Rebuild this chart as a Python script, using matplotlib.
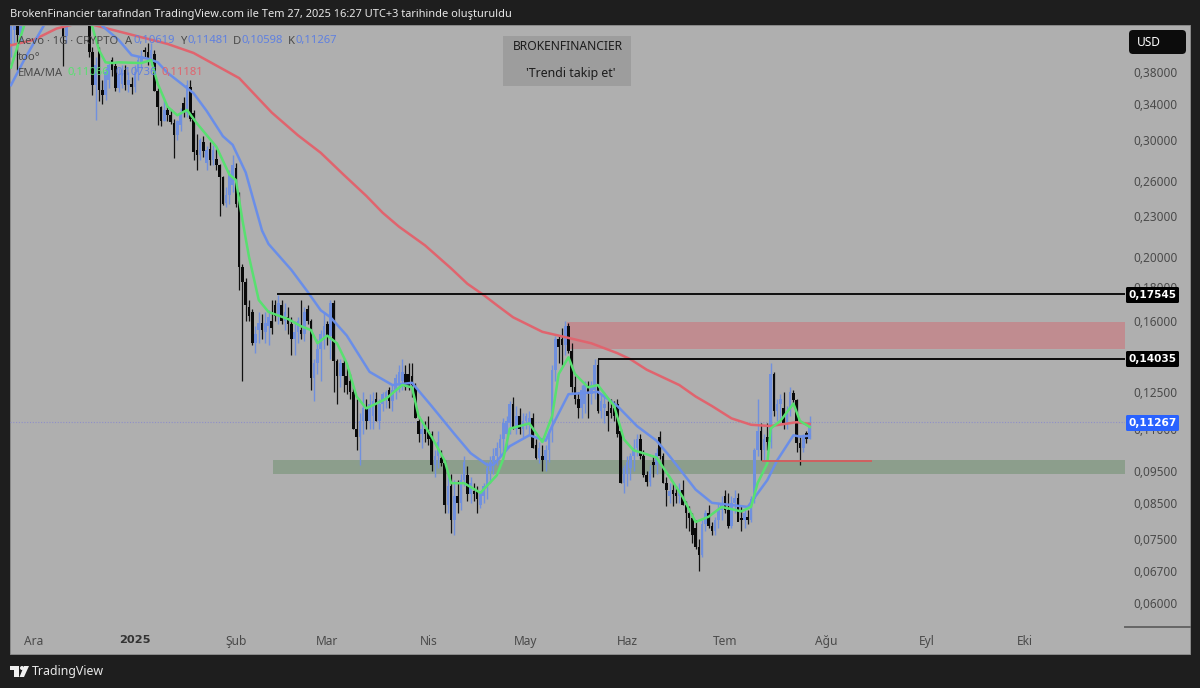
import numpy as np
import matplotlib
matplotlib.use('Agg')
import matplotlib.pyplot as plt
from matplotlib.patches import Rectangle, FancyBboxPatch, Polygon, Circle

# daily candles: (open, high, low, close)
nov = [(.42,.47,.40,.46),(.44,.49,.42,.48),(.47,.50,.383,.432),(.43,.49,.42,.48),(.48,.53,.46,.52),(.52,.55,.49,.53),(.53,.57,.50,.55)]
dec = [(.50,.54,.47,.52),(.52,.56,.49,.50),(.50,.55,.47,.53),(.53,.58,.50,.56),(.56,.60,.52,.54),(.54,.58,.50,.52),(.52,.56,.48,.50),
       (.50,.54,.47,.52),(.52,.55,.49,.50),(.50,.53,.388,.43),(.43,.50,.42,.49),(.49,.54,.47,.52),(.52,.56,.49,.54),(.54,.58,.50,.51),
       (.51,.55,.47,.53),(.53,.56,.49,.52),(.52,.55,.47,.50),(.50,.52,.40,.408),(.408,.415,.351,.363),(.363,.40,.322,.39),(.41,.415,.344,.357),
       (.357,.370,.34,.351),(.351,.385,.345,.38),(.37,.395,.36,.39),(.396,.40,.375,.383),(.388,.392,.356,.36),(.36,.385,.355,.376),
       (.365,.39,.36,.383),(.383,.39,.357,.363),(.363,.38,.355,.37),(.364,.373,.352,.361)]
jan = [(.361,.39,.355,.38),(.38,.40,.37,.396),(.393,.41,.385,.402),(.41,.415,.40,.407),(.408,.42,.39,.399),(.399,.42,.39,.41),
       (.405,.41,.356,.356),(.356,.36,.316,.336),(.336,.338,.315,.321),(.321,.345,.32,.333),(.333,.338,.321,.327),(.327,.334,.317,.319),
       (.318,.323,.282,.305),(.305,.322,.30,.32),(.316,.335,.31,.33),(.341,.348,.325,.329),(.329,.37,.325,.363),(.361,.37,.32,.323),
       (.33,.333,.28,.288),(.29,.306,.27,.285),(.285,.302,.28,.30),(.298,.304,.283,.289),(.277,.294,.27,.29),(.291,.298,.275,.28),
       (.28,.295,.275,.29),(.281,.291,.27,.275),(.275,.276,.23,.264),(.264,.265,.239,.24),(.241,.255,.238,.248),(.248,.27,.24,.266),
       (.257,.285,.25,.275)]
feb = [(.272,.277,.238,.24),(.245,.25,.178,.193),(.193,.195,.130,.183),(.183,.186,.16,.169),(.168,.172,.16,.163),(.165,.167,.147,.148),
       (.148,.157,.143,.153),(.155,.165,.148,.159),(.159,.164,.15,.155),(.154,.165,.148,.159),(.157,.166,.147,.162),(.16,.172,.153,.156),
       (.169,.172,.16,.163),(.163,.175,.158,.17),(.169,.172,.158,.16),(.16,.17,.155,.165),(.162,.168,.153,.158),(.158,.162,.142,.15),
       (.15,.16,.142,.154),(.154,.162,.148,.16),(.155,.172,.15,.153),(.153,.168,.149,.165),(.167,.169,.158,.16),(.16,.161,.126,.131),
       (.131,.14,.121,.138),(.138,.15,.133,.145),(.145,.155,.13,.153),(.15,.165,.145,.157)]
mar = [(.158,.16,.147,.152),(.152,.172,.14,.17),(.17,.172,.125,.139),(.139,.14,.12,.132),(.132,.14,.127,.138),(.138,.14,.125,.132),
       (.132,.137,.124,.128),(.13,.133,.122,.125),(.125,.127,.11,.11),(.11,.122,.102,.107),(.107,.116,.097,.113),(.113,.125,.108,.118),
       (.118,.122,.11,.113),(.113,.124,.11,.12),(.115,.125,.11,.121),(.122,.125,.113,.113),(.113,.122,.11,.12),(.12,.125,.117,.124),
       (.122,.126,.118,.125),(.126,.127,.118,.121),(.121,.128,.117,.126),(.126,.133,.122,.131),(.129,.137,.125,.134),(.13,.14,.126,.134),
       (.133,.137,.126,.127),(.133,.138,.126,.127),(.132,.138,.123,.128),(.127,.129,.114,.114),(.113,.115,.105,.108),(.108,.113,.103,.11),
       (.11,.113,.105,.108)]
apr = [(.109,.115,.104,.106),(.108,.109,.095,.097),(.097,.102,.093,.10),(.10,.109,.096,.105),(.0995,.102,.0965,.0975),(.0975,.0985,.082,.0845),
       (.0845,.095,.082,.09),(.09,.094,.0765,.08),(.08,.092,.076,.087),(.087,.092,.082,.085),(.085,.094,.083,.092),(.092,.10,.09,.098),
       (.0935,.0965,.0855,.0875),(.0875,.093,.085,.091),(.0885,.091,.0855,.0875),(.0885,.09,.082,.086),(.0845,.0885,.0835,.088),(.087,.091,.085,.09),
       (.09,.098,.086,.096),(.095,.10,.091,.098),(.098,.103,.094,.10),(.10,.105,.097,.103),(.103,.108,.10,.106),(.106,.114,.10,.112),
       (.108,.115,.103,.113),(.112,.121,.108,.12),(.12,.123,.11,.11),(.11,.119,.108,.115),(.115,.118,.108,.11),(.11,.116,.107,.113)]
may = [(.113,.116,.11,.115),(.112,.117,.108,.114),(.114,.116,.103,.103),(.104,.106,.099,.0995),(.0995,.105,.0975,.103),(.10,.104,.095,.0985),
       (.0985,.104,.095,.102),(.102,.11,.098,.108),(.113,.137,.105,.135),(.135,.152,.13,.15),(.15,.152,.138,.146),(.15,.156,.137,.147),
       (.147,.16,.142,.157),(.157,.159,.143,.144),(.144,.148,.125,.127),(.127,.132,.12,.122),(.122,.125,.114,.118),(.118,.128,.114,.126),
       (.12,.13,.116,.128),(.128,.13,.114,.124),(.124,.13,.12,.128),(.126,.14,.122,.137),(.137,.1403,.116,.117),(.117,.124,.114,.121),
       (.118,.125,.112,.12),(.117,.121,.109,.115),(.118,.122,.114,.116),(.118,.121,.113,.115),(.12,.122,.107,.108),(.109,.11,.091,.091),
       (.091,.097,.088,.096)]
jun = [(.094,.10,.09,.098),(.096,.101,.092,.10),(.10,.106,.095,.103),(.103,.108,.10,.106),(.106,.108,.099,.10),(.10,.102,.093,.0935),
       (.0935,.095,.09,.0915),(.0915,.097,.09,.095),(.098,.10,.093,.097),(.097,.103,.094,.101),(.107,.109,.099,.10),(.10,.101,.091,.091),
       (.091,.093,.084,.089),(.087,.091,.085,.0885),(.089,.091,.084,.0875),(.088,.09,.085,.087),(.087,.091,.085,.089),(.089,.092,.0845,.0845),
       (.0845,.0855,.078,.082),(.082,.084,.077,.0805),(.0805,.082,.074,.076),(.078,.08,.0725,.073),(.073,.075,.067,.071),(.071,.08,.0705,.079),
       (.079,.083,.077,.082),(.082,.0845,.078,.0785),(.0785,.0795,.076,.077),(.077,.081,.076,.08),(.08,.085,.078,.083),(.083,.087,.08,.085)]
jul = [(.087,.089,.082,.083),(.083,.088,.078,.0785),(.0785,.087,.078,.085),(.085,.089,.082,.0865),(.0865,.088,.08,.0795),(.0805,.084,.077,.08),
       (.08,.083,.078,.082),(.081,.083,.079,.08),(.08,.087,.0795,.086),(.086,.103,.085,.102),(.102,.122,.10,.109),(.109,.112,.0985,.102),
       (.102,.108,.0985,.106),(.107,.112,.102,.105),(.105,.138,.103,.133),(.133,.134,.115,.117),(.117,.122,.113,.12),(.12,.124,.113,.122),
       (.118,.125,.11,.112),(.112,.119,.11,.117),(.117,.127,.115,.125),(.1245,.126,.12,.1215),(.1215,.122,.1015,.1046),(.1046,.107,.097,.1028),
       (.103,.108,.1015,.107),(.1085,.109,.1045,.1062),(.10619,.11481,.10598,.11267)]

candles = np.array(nov + dec + jan + feb + mar + apr + may + jun + jul)
days = np.arange(-38, -38 + len(candles))      # 0 = 1 Jan 2025

ema_fast_days = [-38,-34,-28,-20,-13,-11,-9,-7,-5,2,5,7,10,13,16,19,25,29,31,33,35,38,41,47,51,54,56,59,62,65,68,71,77,82,85,87,91,95,97,
                 101,106,111,113,115,121,125,128,130,133,135,139,142,147,150,153,156,160,164,168,172,176,180,186,189,191,194,195,198,202,204,207]
ema_fast = [.386,.446,.52,.53,.444,.41,.393,.392,.393,.392,.396,.365,.337,.327,.333,.318,.293,.266,.261,.227,.20,.172,.165,.161,.157,.155,.148,.152,.148,.138,.123,.118,.122,.128,.127,.115,.107,.0985,.091,
            .091,.088,.0935,.099,.11,.112,.105,.115,.133,.141,.133,.127,.128,.119,.106,.102,.101,.0995,.093,.0868,.0795,.081,.0838,.0825,.0838,.091,.0975,.11,.113,.12,.113,.1106]

ema_slow_days = [-38,-34,-28,-20,-10,-5,-1,4,7,10,18,22,27,30,34,39,41,48,53,57,60,65,72,79,85,91,98,103,108,110,115,121,126,128,133,142,148,154,160,164,172,177,188,194,197,202,204,207]
ema_slow = [.363,.396,.446,.52,.446,.425,.403,.398,.393,.379,.353,.332,.304,.295,.268,.219,.209,.191,.177,.166,.162,.152,.134,.128,.129,.119,.108,.101,.097,.097,.1035,.1075,.1055,.111,.124,.125,.119,.111,.1055,.10,.089,.085,.0838,.092,.0985,.1075,.107,.10736]

ma_days = [-38,-31,-24,-16,-10,10,18,32,42,50,57,64,71,76,81,89,97,102,107,111,116,125,130,140,148,152,157,167,172,177,183,189,195,203,207]
ma_vals = [.417,.425,.442,.452,.444,.419,.406,.372,.33,.305,.287,.266,.247,.233,.222,.208,.192,.182,.175,.169,.162,.154,.152,.148,.143,.14,.135,.128,.123,.119,.114,.1115,.111,.1125,.11181]

y_ticks = [.38,.34,.30,.26,.23,.20,.18,.16,.125,.11,.095,.085,.075,.067,.06]
x_tick_days = [-31,0,31,59,90,120,151,181,212,243,273]
x_tick_labels = ['Ara','2025','Şub','Mar','Nis','May','Haz','Tem','Ağu','Eyl','Eki']

last_price = 0.11267
res_top = 0.17545
res_low = 0.14035
green_zone = (0.0940, 0.0985)
red_zone = (0.1452, 0.1592)
red_line = 0.0982

DARK = '#1e1e1e'
PANEL = '#afafaf'
UP = '#7090de'
TXT = '#4a4a4a'

plt.rcParams['font.family'] = ['Noto Sans', 'DejaVu Sans']

fig = plt.figure(figsize=(12, 6.88), dpi=100, facecolor=DARK)

# background and chrome, in image pixels
bg = fig.add_axes([0, 0, 1, 1], zorder=0)
bg.set_xlim(0, 1200); bg.set_ylim(688, 0); bg.axis('off')
bg.add_patch(Rectangle((10, 25), 1180, 629, fc=PANEL, ec='#8a8a8a', lw=0.7))

ax = fig.add_axes([10/1200, 1 - 627/688, 1115/1200, 601/688], zorder=1, facecolor='none')
ax.set_yscale('log')
ax.set_xlim(-38.3, 303.7)
ax.set_ylim(0.0552, 0.4459)
for s in ax.spines.values():
    s.set_visible(False)

# zones and levels
ax.axhspan(*green_zone, xmin=(42.3 + 38.3) / 342, color='#8c9e8c', lw=0, zorder=1)
ax.axhspan(*red_zone, xmin=(132.5 + 38.3) / 342, color='#c08c90', lw=0, zorder=1)
ax.axhline(last_price, color='#8f8fc8', lw=0.8, ls=(0, (1, 1.5)), zorder=1)

# candles
o, h, l, c = candles.T
up = c >= o
ax.vlines(days[up], l[up], h[up], color=UP, lw=1.0, zorder=2)
ax.bar(days[up], (c - o)[up], bottom=o[up], width=0.8, color=UP, lw=0, zorder=2)
ax.vlines(days[~up], l[~up], h[~up], color='#111111', lw=0.9, zorder=3)
ax.bar(days[~up], (o - c)[~up], bottom=c[~up], width=0.8, color='#0a0a0a', lw=0, zorder=3)

# moving averages
ax.plot(ma_days, ma_vals, color='#e0646e', lw=1.8, zorder=4)
ax.plot(ema_slow_days, ema_slow, color='#6a8ee8', lw=1.8, zorder=4)
ax.plot(ema_fast_days, ema_fast, color='#58e070', lw=1.8, zorder=4)

ax.hlines(res_top, 43.5, 303.7, color='black', lw=1.3, zorder=5)
ax.hlines(res_low, 142, 303.7, color='black', lw=1.3, zorder=5)
ax.hlines(red_line, 192.3, 226, color='#d0605f', lw=1.4, zorder=5)

# axes labels
ax.yaxis.tick_right()
ax.minorticks_off()
ax.set_yticks(y_ticks)
ax.set_yticklabels([f'{v:.5f}'.replace('.', ',') for v in y_ticks], fontsize=8.5, color=TXT)
ax.tick_params(axis='y', which='both', length=0, pad=6)
ax.set_xticks(x_tick_days)
ax.set_xticklabels(x_tick_labels, fontsize=8.6, color=TXT)
ax.tick_params(axis='x', length=0, pad=6)
year_lab = ax.get_xticklabels()[1]
year_lab.set_family('DejaVu Sans')
year_lab.set_fontweight('bold')
year_lab.set_fontsize(8.2)
year_lab.set_color('#333333')

# overlay text
top = fig.add_axes([0, 0, 1, 1], zorder=2, facecolor='none')
top.set_xlim(0, 1200); top.set_ylim(688, 0); top.axis('off')

top.text(10, 15, 'BrokenFinancier tarafından TradingView.com ile Tem 27, 2025 16:27 UTC+3 tarihinde oluşturuldu',
         color='#e8e8e8', fontsize=7.95, va='center')

top.plot([1125, 1190], [627, 627], color='#666666', lw=1.4)
top.add_patch(FancyBboxPatch((1129, 30), 57, 24, boxstyle='round,pad=0,rounding_size=4', fc='#0c0c0c', ec='none'))
top.text(1137, 42, 'USD', color='white', fontsize=8.6, va='center', fontweight='medium')

top.add_patch(Rectangle((503, 36), 128, 50, fc='#9d9d9d', ec='none'))
top.text(513, 47, 'BROKENFINANCIER', color='#1c1c1c', fontsize=8.7, va='center')
top.text(526, 73, "'Trendi takip et'", color='#1c1c1c', fontsize=8.9, va='center')

# legend rows
def leg(x, y, s, col=TXT, weight='normal', family=None):
    top.text(x, y, s, color=col, fontsize=8.1, va='center', fontweight=weight, family=family)

leg(18, 41, 'Aevo · 1G · CRYPTO')
for x, lab, val in [(125, 'A', '0,10619'), (180, 'Y', '0,11481'), (233, 'D', '0,10598'), (288, 'K', '0,11267')]:
    leg(x, 41, lab)
    leg(x + 8, 41, val, '#5f80e0')
leg(18, 57, 'too°')
leg(18, 73, 'EMA/MA')
leg(67, 73, '0,11066', '#58e070')
leg(115, 73, '0,10736', '#5f80e0')
leg(161, 73, '0,11181', '#e0646e')

# price tags
for y, s, col in [(295, '0,17545', 'black'), (359, '0,14035', 'black'), (423, '0,11267', '#2962ff')]:
    top.add_patch(FancyBboxPatch((1126, y - 8), 53, 16, boxstyle='round,pad=0,rounding_size=1.5', fc=col, ec='none'))
    top.text(1152.5, y, s, color='white', fontsize=7.6, fontweight='bold', family='DejaVu Sans', ha='center', va='center')

# TradingView mark
top.add_patch(Polygon([(10, 666), (19, 666), (19, 677), (14, 677), (14, 670), (10, 670)], fc='#f0f0f0', ec='none'))
top.add_patch(Circle((22, 668), 2, fc='#f0f0f0', ec='none'))
top.add_patch(Polygon([(24, 666), (29, 666), (24, 677), (19.5, 677)], fc='#f0f0f0', ec='none'))
top.text(32, 672, 'TradingView', color='#e8e8e8', fontsize=8.9, va='center')

fig.savefig('out.png', dpi=100, facecolor=DARK)
